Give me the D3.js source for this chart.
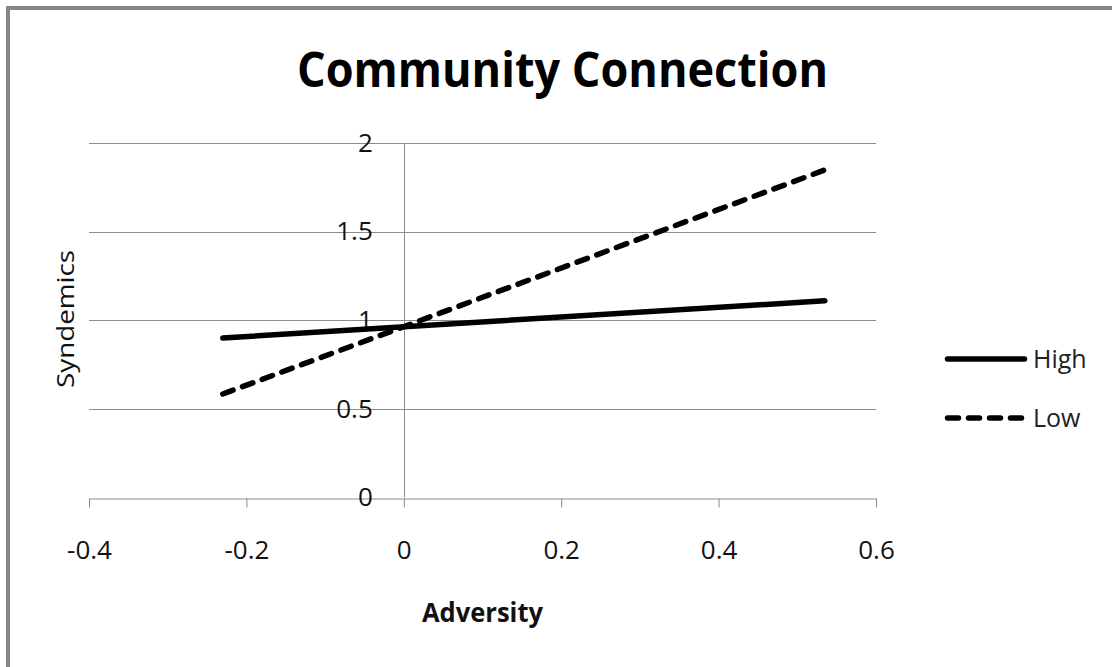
<!DOCTYPE html>
<html>
<head>
<meta charset="utf-8">
<script src="https://cdn.jsdelivr.net/npm/d3@7/dist/d3.min.js"></script>
<style>
  html, body { margin: 0; padding: 0; background: #fff; }
  svg { display: block; }
  text { font-family: "Open Sans", "Liberation Sans", sans-serif; }
</style>
</head>
<body>
<svg id="chart" width="1112" height="667"></svg>
<script>
// Simple slopes: Syndemics predicted by Adversity at high / low community connection
const seriesNames = ["High", "Low"];
const adversity = [-0.23, 0.535];
const highValues = [0.90, 1.11];
const lowValues = [0.584, 1.848];

const xTicks = [-0.4, -0.2, 0, 0.2, 0.4, 0.6];
const xTickLabels = ["-0.4", "-0.2", "0", "0.2", "0.4", "0.6"];
const yTicks = [0, 0.5, 1, 1.5, 2];
const yTickLabels = ["0", "0.5", "1", "1.5", "2"];

const titleText = "Community Connection";
const xTitle = "Adversity";
const yTitle = "Syndemics";

const svg = d3.select("#chart");

// outer frame (top and left edges)
svg.append("rect").attr("x", 6).attr("y", 6).attr("width", 1106).attr("height", 4).attr("fill", "#878787");
svg.append("rect").attr("x", 6).attr("y", 6).attr("width", 4).attr("height", 661).attr("fill", "#878787");

const x = d3.scaleLinear().domain([-0.4, 0.6]).range([89, 876]);
const y = d3.scaleLinear().domain([0, 2]).range([497.5, 143]);

// horizontal gridlines
svg.append("g")
  .selectAll("line")
  .data(yTicks.filter(d => d > 0))
  .join("line")
  .attr("x1", x.range()[0]).attr("x2", x.range()[1])
  .attr("y1", d => Math.round(y(d)) + 0.5).attr("y2", d => Math.round(y(d)) + 0.5)
  .attr("stroke", "#8c8c8c").attr("stroke-width", 1);

// vertical axis line crossing at x = 0
svg.append("line")
  .attr("x1", Math.round(x(0)) + 0.5).attr("x2", Math.round(x(0)) + 0.5)
  .attr("y1", y(2)).attr("y2", y(0))
  .attr("stroke", "#8c8c8c").attr("stroke-width", 1);

// x axis
const xAxis = d3.axisBottom(x)
  .tickValues(xTicks)
  .tickFormat((d, i) => xTickLabels[i])
  .tickSize(9).tickSizeOuter(0).tickPadding(33);
const gx = svg.append("g")
  .attr("transform", `translate(0,${Math.round(y(0)) + 0.5})`)
  .call(xAxis);
gx.select(".domain").attr("stroke", "#8c8c8c");
gx.selectAll(".tick line").attr("stroke", "#8c8c8c");
gx.selectAll(".tick text")
  .attr("font-size", 26).attr("fill", "#111")
  .attr("font-family", "'Open Sans', sans-serif");

// y axis labels, sitting left of the x = 0 line
const yAxis = d3.axisLeft(y)
  .tickValues(yTicks)
  .tickFormat((d, i) => yTickLabels[i])
  .tickSize(0).tickPadding(31);
const gy = svg.append("g")
  .attr("transform", `translate(${x(0)},0)`)
  .call(yAxis);
gy.select(".domain").remove();
gy.selectAll(".tick text")
  .attr("font-size", 26).attr("fill", "#111")
  .attr("font-family", "'Open Sans', sans-serif");

// series lines
const line = d3.line().x(d => x(d[0])).y(d => y(d[1]));
const series = [
  { name: seriesNames[0], values: highValues, dash: null },
  { name: seriesNames[1], values: lowValues, dash: "11,10" }
];
svg.append("g")
  .selectAll("path")
  .data(series)
  .join("path")
  .attr("d", s => line(adversity.map((a, i) => [a, s.values[i]])))
  .attr("fill", "none")
  .attr("stroke", "#000")
  .attr("stroke-width", 5.5)
  .attr("stroke-linecap", "round")
  .attr("stroke-dasharray", s => s.dash);

// legend
const legend = svg.append("g")
  .selectAll("g")
  .data(series)
  .join("g")
  .attr("transform", (s, i) => `translate(0,${359 + i * 59})`);
legend.append("line")
  .attr("x1", 947.5).attr("x2", 1024.5)
  .attr("y1", 0).attr("y2", 0)
  .attr("stroke", "#000").attr("stroke-width", 5.5)
  .attr("stroke-linecap", "round")
  .attr("stroke-dasharray", s => s.dash);
legend.append("text")
  .attr("x", 1033).attr("y", 8.5)
  .attr("font-size", 25).attr("fill", "#222")
  .text(s => s.name);

// title
svg.append("text")
  .attr("x", 297).attr("y", 87)
  .attr("font-size", 48).attr("font-weight", "bold").attr("fill", "#000")
  .attr("textLength", 531).attr("lengthAdjust", "spacingAndGlyphs")
  .text(titleText);

// axis titles
svg.append("text")
  .attr("x", 422).attr("y", 622)
  .attr("font-size", 26).attr("font-weight", "bold").attr("fill", "#111")
  .attr("textLength", 121).attr("lengthAdjust", "spacingAndGlyphs")
  .text(xTitle);

svg.append("text")
  .attr("transform", "translate(74,319) rotate(-90)")
  .attr("text-anchor", "middle")
  .attr("font-size", 24).attr("fill", "#111")
  .attr("textLength", 138).attr("lengthAdjust", "spacingAndGlyphs")
  .text(yTitle);
</script>
</body>
</html>
